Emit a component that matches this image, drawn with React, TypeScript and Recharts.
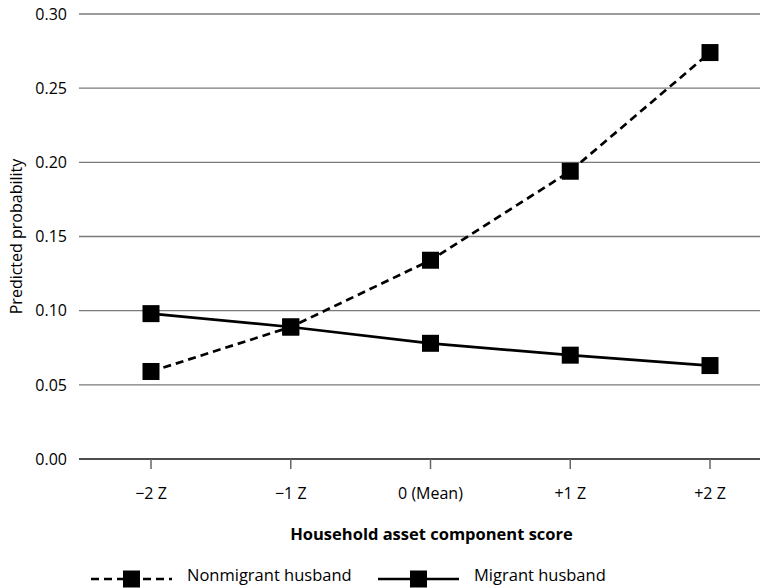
import React from 'react';
import { LineChart, Line, XAxis, YAxis, CartesianGrid, Legend, Label } from 'recharts';

const categories = ['\u22122 Z', '\u22121 Z', '0 (Mean)', '+1 Z', '+2 Z'];
const nonmigrant = [0.059, 0.089, 0.134, 0.194, 0.274];
const migrant = [0.098, 0.089, 0.078, 0.070, 0.063];
const yTicks = [0, 0.05, 0.1, 0.15, 0.2, 0.25, 0.3];
const seriesNames = ['Nonmigrant husband', 'Migrant husband'];

const data = categories.map((c, i) => ({ cat: c, nonmigrant: nonmigrant[i], migrant: migrant[i] }));

const FONT = '"Open Sans", "DejaVu Sans", sans-serif';

const SquareDot = (props: any) => {
  const { cx, cy, index } = props;
  if (cx == null || cy == null) return null;
  return <rect key={index} x={cx - 8.5} y={cy - 8.5} width={17} height={17} fill="#000" />;
};

const LegendContent = () => {
  const items = [
    { x: 91, dash: '8 5', name: seriesNames[0] },
    { x: 378, dash: undefined, name: seriesNames[1] },
  ];
  return (
    <svg width={760} height={28} style={{ display: 'block' }}>
      {items.map((it, i) => (
        <g key={i}>
          <line x1={it.x} y1={19} x2={it.x + 81} y2={19} stroke="#000" strokeWidth={2.5} strokeDasharray={it.dash} />
          <rect x={it.x + 32} y={10.5} width={17} height={17} fill="#000" />
          <text x={it.x + 96} y={21} fontFamily={FONT} fontSize={16.5} fill="#000">{it.name}</text>
        </g>
      ))}
    </svg>
  );
};

export default function App() {
  return (
    <div style={{ position: 'absolute', left: 0, top: 0, width: 760, height: 588, background: '#fff' }}>
      <LineChart width={760} height={588} data={data} margin={{ top: 14, right: 0, left: 0, bottom: 0 }}>
        <CartesianGrid horizontal vertical={false} stroke="#7a7a7a" strokeWidth={1.3} />
        <XAxis
          dataKey="cat"
          padding={{ left: 72, right: 50 }}
          height={101}
          tickSize={10}
          tickMargin={19}
          axisLine={{ stroke: '#333', strokeWidth: 1.5 }}
          tickLine={{ stroke: '#666', strokeWidth: 1.5 }}
          tick={{ fill: '#000', fontSize: 16, fontFamily: FONT }}
        >
          <Label
            value="Household asset component score"
            position="insideBottom"
            offset={20}
            dx={12}
            style={{ fontWeight: 'bold', fontSize: 16.5, fontFamily: FONT, fill: '#000' }}
          />
        </XAxis>
        <YAxis
          width={79}
          domain={[0, 0.3]}
          ticks={yTicks}
          tickFormatter={(v: number) => v.toFixed(2)}
          axisLine={false}
          tickLine={false}
          tickMargin={6}
          tick={{ fill: '#000', fontSize: 16, fontFamily: FONT }}
        >
          <Label
            value="Predicted probability"
            angle={-90}
            position="insideLeft"
            offset={16}
            style={{ textAnchor: 'middle', fontSize: 16, fontFamily: FONT, fill: '#000' }}
          />
        </YAxis>
        <Legend verticalAlign="bottom" content={<LegendContent />} />
        <Line
          dataKey="nonmigrant"
          name={seriesNames[0]}
          stroke="#000"
          strokeWidth={2.7}
          strokeDasharray="8 5"
          dot={<SquareDot />}
          activeDot={false}
          isAnimationActive={false}
        />
        <Line
          dataKey="migrant"
          name={seriesNames[1]}
          stroke="#000"
          strokeWidth={2.7}
          dot={<SquareDot />}
          activeDot={false}
          isAnimationActive={false}
        />
      </LineChart>
    </div>
  );
}
